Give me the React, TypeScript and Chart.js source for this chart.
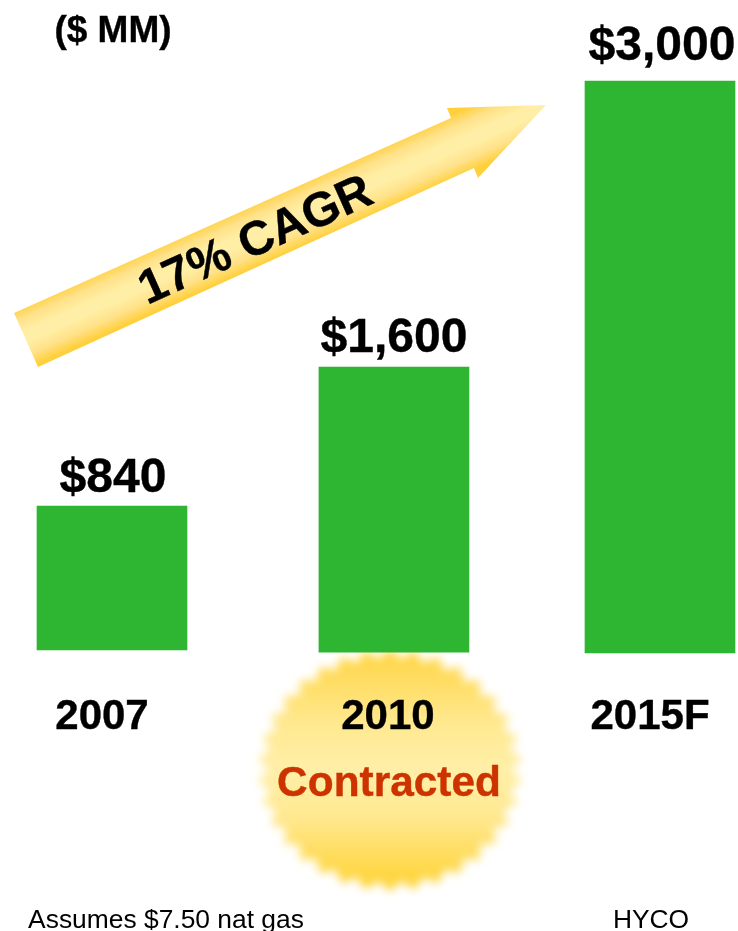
import React, { useEffect, useRef } from "react";
import { Chart, registerables } from "chart.js";

Chart.register(...registerables);

const categories = ["2007", "2010", "2015F"];
const valueLabels = ["$840", "$1,600", "$3,000"];
// The picture's bars are not drawn to the scale of their labels: these are read from the drawn bars.
const barBottoms = [16, 5, 0];
const barTops = [771, 1500, 3000];
const categorySlots = [0, 1.029, 2];
const unitLabel = "($ MM)";
const cagrLabel = "17% CAGR";
const badgeLabel = "Contracted";
const footnoteLeft = "Assumes $7.50 nat gas";
const footnoteRight = "HYCO";

const FONT = '"Liberation Sans", Arial, sans-serif';

const decorations = {
  id: "decorations",
  beforeDatasetsDraw(chart: any) {
    const ctx = chart.ctx as CanvasRenderingContext2D;
    // starburst behind the 2010 label
    ctx.save();
    const cx = 390, cy = 770, spikes = 34;
    const g = ctx.createLinearGradient(0, cy - 118, 0, cy + 118);
    g.addColorStop(0, "#FFD545");
    g.addColorStop(0.3, "#FFE88F");
    g.addColorStop(0.5, "#FFEFA8");
    g.addColorStop(0.7, "#FFE88F");
    g.addColorStop(1, "#FFD232");
    ctx.filter = "blur(5px)";
    ctx.fillStyle = g;
    ctx.beginPath();
    for (let i = 0; i < spikes * 2; i++) {
      const r = i % 2 === 0 ? 133 : 122;
      const a = (Math.PI * i) / spikes;
      const x = cx + r * Math.sin(a);
      const y = cy - ((r * 116) / 127) * Math.cos(a);
      if (i === 0) ctx.moveTo(x, y);
      else ctx.lineTo(x, y);
    }
    ctx.closePath();
    ctx.fill();
    ctx.restore();

    // growth arrow
    ctx.save();
    const ag2 = ctx.createLinearGradient(449, 116, 473, 170);
    ag2.addColorStop(0, "#FFD03E");
    ag2.addColorStop(0.2, "#FFE28A");
    ag2.addColorStop(0.42, "#FFEFA6");
    ag2.addColorStop(0.58, "#FFEFA6");
    ag2.addColorStop(0.8, "#FFE28A");
    ag2.addColorStop(1, "#FFD03E");
    ctx.fillStyle = ag2;
    ctx.beginPath();
    ctx.moveTo(14, 313);
    ctx.lineTo(451, 118);
    ctx.lineTo(447, 108);
    ctx.lineTo(546, 105);
    ctx.lineTo(478, 178);
    ctx.lineTo(474, 168);
    ctx.lineTo(38, 367);
    ctx.closePath();
    ctx.fill();
    ctx.restore();

    ctx.save();
    ctx.translate(255, 239);
    ctx.rotate((-24.2 * Math.PI) / 180);
    ctx.fillStyle = "#000";
    ctx.strokeStyle = "#000";
    ctx.lineWidth = 0.4;
    ctx.font = `bold 48px ${FONT}`;
    ctx.textAlign = "center";
    ctx.textBaseline = "alphabetic";
    ctx.fillText(cagrLabel, 0, 16);
    ctx.strokeText(cagrLabel, 0, 16);
    ctx.restore();
  },
  afterDatasetsDraw(chart: any) {
    const ctx = chart.ctx as CanvasRenderingContext2D;
    const x = chart.scales.x, y = chart.scales.y;
    ctx.save();
    ctx.fillStyle = "#000";
    ctx.strokeStyle = "#000";
    ctx.lineWidth = 0.4;
    ctx.textAlign = "center";
    ctx.textBaseline = "alphabetic";
    const labelShift = [1, 0, 2];
    const labelLift = [14, 15, 21];
    const catShift = [-10, -6, -10];
    categories.forEach((c, i) => {
      const px = x.getPixelForValue(categorySlots[i]);
      const ly = y.getPixelForValue(barTops[i]) - labelLift[i];
      ctx.font = `bold 48px ${FONT}`;
      ctx.fillText(valueLabels[i], px + labelShift[i], ly);
      ctx.strokeText(valueLabels[i], px + labelShift[i], ly);
      ctx.font = `bold 42px ${FONT}`;
      ctx.fillText(c, px + catShift[i], 729);
      ctx.strokeText(c, px + catShift[i], 729);
    });
    ctx.font = `bold 37px ${FONT}`;
    ctx.fillText(unitLabel, 113, 42);
    ctx.strokeText(unitLabel, 113, 42);
    ctx.font = `bold 42.4px ${FONT}`;
    ctx.fillStyle = "#CC3300";
    ctx.strokeStyle = "#CC3300";
    ctx.fillText(badgeLabel, 389, 796);
    ctx.strokeText(badgeLabel, 389, 796);
    ctx.fillStyle = "#000";
    ctx.font = `26.4px ${FONT}`;
    ctx.fillText(footnoteLeft, 166, 928);
    ctx.fillText(footnoteRight, 651, 928);
    ctx.restore();
  },
};

export default function App() {
  const ref = useRef<HTMLCanvasElement>(null);
  useEffect(() => {
    document.body.style.margin = "0";
    const chart = new Chart(ref.current!, {
      type: "bar",
      data: {
        datasets: [
          {
            data: categorySlots.map((s, i) => ({ x: s, y: [barBottoms[i], barTops[i]] })) as any,
            backgroundColor: "#2EB532",
            barThickness: 150,
            borderWidth: 0,
            borderSkipped: false,
          },
        ],
      },
      options: {
        animation: false,
        responsive: false,
        parsing: { xAxisKey: "x", yAxisKey: "y" } as any,
        layout: { padding: 0 },
        plugins: { legend: { display: false }, tooltip: { enabled: false } },
        scales: {
          x: { type: "linear", display: false, min: -0.40876, max: 2.2847, offset: false },
          y: { type: "linear", display: false, min: -1458, max: 3425 },
        },
      },
      plugins: [decorations],
    });
    return () => chart.destroy();
  }, []);
  return <canvas ref={ref} width={738} height={931} style={{ display: "block", width: 738, height: 931 }} />;
}
